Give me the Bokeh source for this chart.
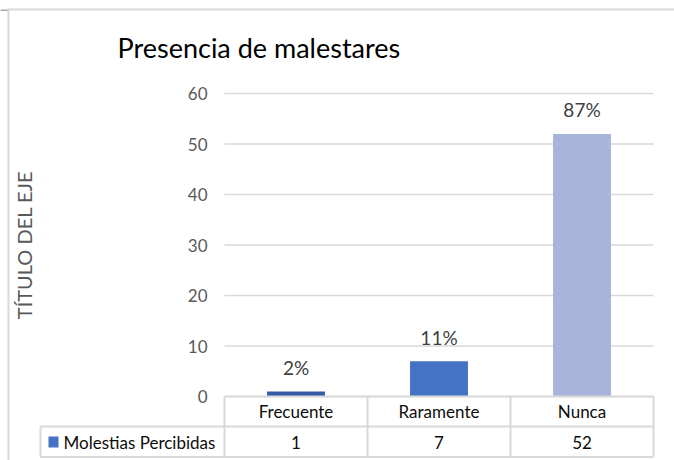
from bokeh.plotting import figure
from bokeh.models import Range1d, FixedTicker, LinearAxis
from bokeh.core.properties import value
from bokeh.embed import file_html
from bokeh.resources import INLINE

# ---- data ----
categories = ["Frecuente", "Raramente", "Nunca"]
counts = [1, 7, 52]
pct_labels = ["2%", "11%", "87%"]
bar_colors = ["#355AA6", "#4472C4", "#A7B5DA"]
series_name = "Molestias Percibidas"
y_ticks = [0, 10, 20, 30, 40, 50, 60]
chart_title = "Presencia de malestares"
y_title = "TÍTULO DEL EJE"

FONT = "Lato"
GRID = "#D9D9D9"
W, H = 674, 460
# plot-area geometry in page pixels
PL, PR = 224, 653          # left / right of plot area
PT, PB = 93, 396           # pixel of y=60 / y=0
YMAX = 60
n = len(categories)
cell = (PR - PL) / n
ppu = (PB - PT) / YMAX

x_range = Range1d(-PL / cell, (W - PL) / cell)
y_range = Range1d(-(H - PB) / ppu, YMAX + PT / ppu)

p = figure(width=W, height=H, x_range=x_range, y_range=y_range,
           output_backend="svg", toolbar_location=None,
           x_axis_location=None, y_axis_location=None, title_location=None,
           min_border=0, min_border_left=0, min_border_right=0,
           min_border_top=0, min_border_bottom=0)
p.extra_x_ranges = {"px": Range1d(0, W)}
p.extra_y_ranges = {"px": Range1d(H, 0)}
p.outline_line_color = None
p.grid.visible = False
p.background_fill_color = "white"
p.border_fill_color = "white"

# y axis drawn at the left edge of the plot area
yaxis = LinearAxis(fixed_location=0, ticker=FixedTicker(ticks=y_ticks),
                   bounds=(y_ticks[0], y_ticks[-1]))
yaxis.axis_line_color = None
yaxis.major_tick_line_color = None
yaxis.minor_tick_line_color = None
yaxis.major_tick_out = 0
yaxis.major_tick_in = 0
yaxis.major_label_standoff = 17
yaxis.major_label_text_font = FONT
yaxis.major_label_text_font_size = "17px"
yaxis.major_label_text_color = "#595959"
yaxis.axis_label = y_title
yaxis.axis_label_text_font = FONT
yaxis.axis_label_text_font_size = "20px"
yaxis.axis_label_text_font_style = "normal"
yaxis.axis_label_text_color = "#595959"
yaxis.axis_label_standoff = 149
p.add_layout(yaxis, "left")

# horizontal gridlines over the plot area
p.segment(x0=[0] * len(y_ticks), x1=[n] * len(y_ticks), y0=y_ticks, y1=y_ticks,
          line_color=GRID, line_width=1.5)

# bars and their labels
xc = [i + 0.5 for i in range(n)]
p.vbar(x=xc, top=counts, bottom=0, width=0.405, fill_color=bar_colors, line_color=None)
p.text(x=xc, y=counts, text=pct_labels, text_align="center",
       text_baseline="middle", y_offset=-24, text_font=value(FONT),
       text_font_size="19px", text_color="#404040")

# title
p.text(x=[117], y=[47], text=[chart_title], x_range_name="px", y_range_name="px",
       text_align="left", text_baseline="middle", text_font=value(FONT),
       text_font_size="27px", text_color="#000000")

# outer chart-area border (top and left)
p.quad(left=[7, 7, 0], right=[9, W, 7], top=[8, 8, 9], bottom=[H, 10, 10.5],
       x_range_name="px", y_range_name="px",
       fill_color=[GRID, GRID, "#A6A6A6"], line_color=None)

# ---- data table under the plot ----
ROW1, ROW2, ROWB = 396, 426, 456.5
LABL = 40
# horizontal rules
p.segment(x0=[PL, LABL, LABL], x1=[PR, PR, PR], y0=[ROW1, ROW2, ROWB], y1=[ROW1, ROW2, ROWB],
          x_range_name="px", y_range_name="px", line_color=GRID, line_width=2)
# vertical rules at category boundaries
p.segment(x0=list(range(n + 1)), x1=list(range(n + 1)),
          y0=[ROW1] * (n + 1), y1=[ROWB] * (n + 1),
          y_range_name="px", line_color=GRID, line_width=2)
p.segment(x0=[LABL], x1=[LABL], y0=[ROW2], y1=[ROWB],
          x_range_name="px", y_range_name="px", line_color=GRID, line_width=2)
# cell texts
p.text(x=xc, y=[411] * n, text=categories, y_range_name="px",
       text_align="center", text_baseline="middle", text_font=value(FONT),
       text_font_size="17px", text_color="#0D0D0D")
p.text(x=xc, y=[441.5] * n, text=[str(c) for c in counts], y_range_name="px",
       text_align="center", text_baseline="middle", text_font=value(FONT),
       text_font_size="17px", text_color="#0D0D0D")
# legend key + series name
p.quad(left=[48], right=[58], top=[436], bottom=[447], x_range_name="px", y_range_name="px",
       fill_color="#4472C4", line_color=None)
p.text(x=[63], y=[441.5], text=[series_name], x_range_name="px", y_range_name="px",
       text_align="left", text_baseline="middle", text_font=value(FONT),
       text_font_size="17px", text_color="#0D0D0D")

open("out.html", "w").write(file_html(p, INLINE))
